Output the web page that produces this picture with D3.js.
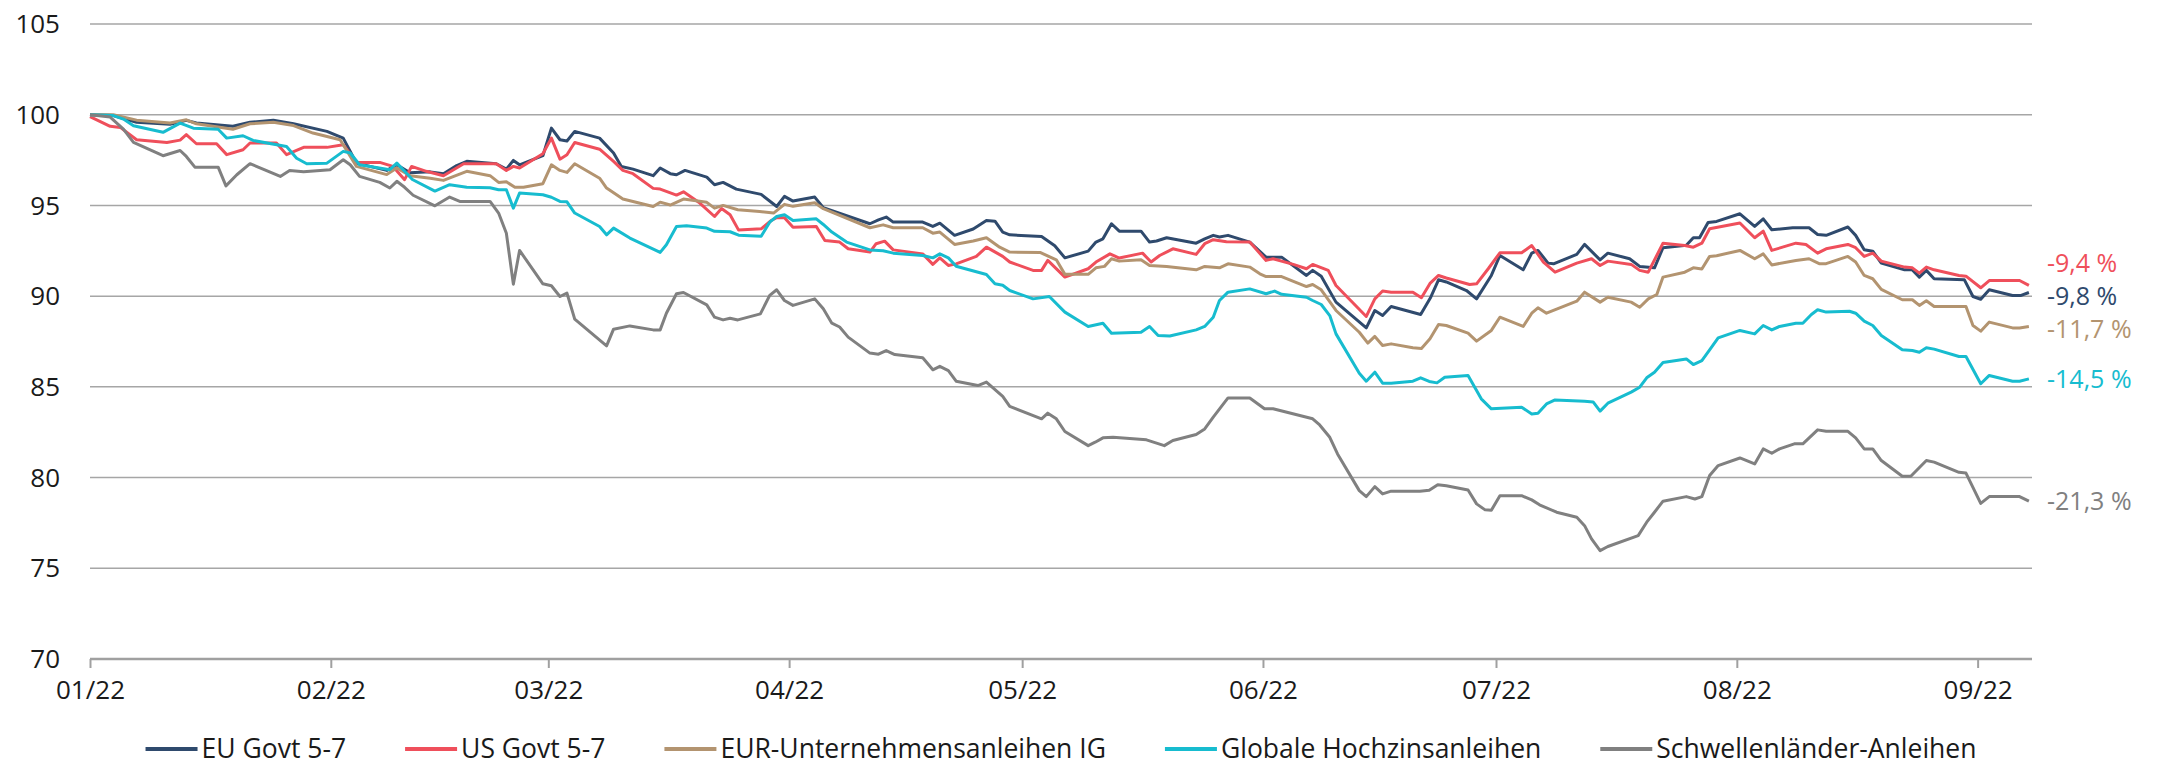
<!DOCTYPE html>
<html>
<head>
<meta charset="utf-8">
<script src="https://cdn.jsdelivr.net/npm/d3@7"></script>
<style>
  body { margin: 0; background: #fff; }
  svg { font-family: "Open Sans", sans-serif; }
</style>
</head>
<body>
<svg id="chart" width="2167" height="768"></svg>
<script>
// index level (start = 100), points are [days since 1 Jan 2022, value]
const euGovt = [[0,100],[3,99.95],[6,99.58],[10.3,99.47],[12.4,99.69],[13.7,99.54],[18.4,99.36],[20.6,99.58],[23.6,99.69],[26.2,99.5],[30.5,99.08],[32.6,98.71],[34.3,97.33],[38.2,96.93],[39.5,97.24],[41.2,96.8],[43.8,96.85],[45.5,96.75],[47.2,97.2],[48.5,97.43],[52.3,97.3],[53.6,97.0],[54.5,97.48],[55.3,97.24],[58.3,97.74],[59.4,99.26],[60.5,98.62],[61.4,98.55],[62.4,99.08],[65.6,98.71],[67.4,97.89],[68.4,97.15],[69.9,97.0],[72.5,96.64],[73.4,97.06],[74.7,96.75],[75.5,96.69],[76.6,96.93],[79.4,96.56],[80.4,96.14],[81.5,96.27],[83.2,95.9],[86.4,95.61],[88.4,94.94],[89.4,95.5],[90.5,95.24],[93.3,95.46],[94.4,94.87],[100.4,93.99],[101.5,94.2],[102.5,94.36],[103.4,94.08],[107.2,94.08],[108.5,93.84],[109.4,94.02],[111.3,93.35],[113.7,93.7],[115.4,94.17],[116.5,94.13],[117.5,93.53],[118.4,93.38],[122.5,93.29],[124.2,92.78],[125.5,92.11],[128.5,92.48],[129.5,92.98],[130.4,93.16],[131.5,93.99],[132.5,93.58],[135.3,93.58],[136.4,92.98],[137.3,93.04],[138.6,93.22],[142.4,92.92],[143.5,93.16],[144.6,93.35],[145.4,93.26],[146.5,93.35],[149.3,92.98],[151.4,92.15],[153.4,92.15],[156.6,91.14],[157.4,91.42],[158.5,91.1],[160.4,89.67],[164.3,88.25],[165.4,89.21],[166.4,88.93],[167.5,89.43],[171.3,88.99],[172.6,89.94],[173.6,90.9],[174.6,90.78],[177.2,90.31],[178.5,89.85],[180.4,91.14],[181.5,92.24],[184.5,91.45],[185.6,92.37],[186.4,92.52],[187.7,91.82],[188.4,91.78],[191.4,92.3],[192.4,92.85],[194.4,92.0],[195.4,92.37],[198.2,92.06],[199.5,91.64],[201.4,91.56],[202.5,92.67],[205.5,92.8],[206.4,93.22],[207.2,93.22],[208.3,94.06],[209.4,94.12],[212.4,94.54],[214.3,93.84],[215.4,94.26],[216.5,93.66],[219.2,93.77],[221.3,93.77],[222.4,93.4],[223.5,93.35],[226.3,93.81],[227.3,93.35],[228.4,92.56],[229.5,92.48],[230.6,91.82],[233.6,91.45],[234.6,91.45],[235.5,91.05],[236.4,91.42],[237.4,90.96],[241.3,90.9],[242.4,89.98],[243.4,89.83],[244.5,90.35],[247.5,90.04],[248.6,90.04],[249.6,90.2]];

const usGovt = [[0,99.9],[2.6,99.36],[3.9,99.3],[6,98.62],[9.9,98.47],[11.6,98.6],[12.4,98.9],[13.7,98.4],[16.3,98.4],[17.6,97.8],[19.7,98.07],[20.6,98.44],[24,98.44],[25.3,97.8],[27.5,98.2],[30.5,98.2],[32.6,98.35],[34.3,97.37],[37.3,97.37],[39,97.15],[40.5,96.42],[41.4,97.15],[43.3,96.88],[45.5,96.64],[48.1,97.3],[52.3,97.3],[53.6,96.93],[54.5,97.15],[55.3,97.06],[58.3,97.85],[59.4,98.71],[60.5,97.55],[61.4,97.79],[62.4,98.47],[65.6,98.1],[67.4,97.43],[68.6,96.93],[69.9,96.75],[72.5,95.94],[73.4,95.9],[75.5,95.57],[76.4,95.75],[78.5,95.13],[80.4,94.39],[81.3,94.83],[82.4,94.49],[83.5,93.64],[86.4,93.71],[87.7,94.17],[88.4,94.32],[89.4,94.32],[90.5,93.8],[93.5,93.84],[94.6,93.07],[96.5,92.98],[97.6,92.61],[100.4,92.43],[101.2,92.89],[102.3,93.03],[103.4,92.55],[107.2,92.33],[108.5,91.75],[109.4,92.11],[110.5,91.69],[111.5,91.78],[114.1,92.19],[115.4,92.7],[117.5,92.19],[118.4,91.88],[121.4,91.42],[122.5,91.42],[123.3,91.97],[125.5,91.05],[128.5,91.51],[129.5,91.88],[131.3,92.33],[132.5,92.1],[135.5,92.37],[136.6,91.88],[137.7,92.24],[139.4,92.61],[142.4,92.3],[143.5,92.89],[144.6,93.11],[146.3,93.0],[149.3,92.98],[151.4,91.97],[152.3,92.06],[154.9,91.75],[156.6,91.51],[157.4,91.75],[159.4,91.42],[160.4,90.59],[164.3,88.88],[165.4,89.85],[166.4,90.28],[167.5,90.22],[170.3,90.22],[171.4,89.91],[172.5,90.7],[173.6,91.14],[174.6,91.0],[177.6,90.64],[178.5,90.68],[180,91.51],[181.5,92.39],[184.3,92.39],[185.6,92.79],[187.1,91.88],[188.6,91.32],[191.4,91.82],[193.3,92.06],[194.4,91.69],[195.4,91.93],[198.4,91.75],[199.5,91.42],[200.6,91.32],[202.5,92.92],[205.3,92.79],[206.4,92.7],[207.5,92.92],[208.5,93.71],[212.4,94.03],[214.3,93.22],[215.4,93.58],[216.5,92.52],[219.6,92.92],[220.9,92.85],[222.4,92.37],[223.5,92.61],[226.3,92.85],[227.3,92.67],[228.4,92.19],[229.5,92.37],[230.6,91.93],[233.6,91.6],[234.6,91.56],[235.5,91.27],[236.4,91.6],[237.4,91.45],[240.6,91.14],[241.5,91.1],[243.4,90.46],[244.5,90.86],[248.4,90.86],[249.6,90.59]];

const eurCorpIG = [[0,100],[3,100],[6,99.7],[10.3,99.54],[12.4,99.72],[13.7,99.5],[18.4,99.2],[20.6,99.5],[23.6,99.58],[26.2,99.4],[28.7,98.99],[32.2,98.62],[34.3,97.15],[38.2,96.7],[39.5,97.06],[41.2,96.64],[43.8,96.5],[45.5,96.38],[48.5,96.88],[51.5,96.64],[52.6,96.27],[53.6,96.3],[54.7,96.0],[55.8,96.0],[58.3,96.2],[59.4,97.24],[60.5,96.93],[61.4,96.82],[62.4,97.3],[65.6,96.5],[66.5,95.96],[68.6,95.35],[72.5,94.94],[73.4,95.18],[74.7,95.02],[76.4,95.35],[79.4,95.17],[80.4,94.85],[81.5,95.0],[83.4,94.76],[86.2,94.67],[88,94.58],[89.4,95.06],[90.5,94.95],[93.3,95.15],[94.4,94.82],[100.4,93.77],[102.1,93.93],[103.4,93.77],[107.2,93.77],[108.5,93.47],[109.4,93.53],[111.3,92.85],[113.7,93.04],[115.4,93.22],[117.1,92.7],[118.4,92.43],[122.3,92.41],[124.4,92.0],[125.5,91.2],[128.5,91.2],[129.5,91.56],[130.6,91.64],[131.5,92.06],[132.5,91.93],[135.3,92.0],[136.4,91.69],[138.6,91.64],[142.4,91.45],[143.5,91.64],[145.4,91.56],[146.5,91.78],[149.3,91.6],[150.6,91.23],[151.4,91.08],[153.4,91.08],[156.6,90.53],[157.4,90.64],[158.5,90.35],[160.4,89.21],[163.4,88.01],[164.5,87.41],[165.4,87.78],[166.4,87.28],[167.5,87.37],[170.3,87.15],[171.4,87.12],[172.5,87.65],[173.6,88.44],[174.6,88.38],[177.4,87.96],[178.5,87.52],[180.4,88.11],[181.5,88.84],[184.5,88.33],[185.6,89.06],[186.4,89.36],[187.5,89.06],[191.4,89.72],[192.4,90.22],[194.4,89.67],[195.4,89.94],[198.4,89.67],[199.5,89.39],[200.6,89.85],[201.7,90.09],[202.5,91.05],[205.3,91.32],[206.4,91.56],[207.5,91.5],[208.5,92.19],[209.4,92.23],[212.4,92.52],[214.3,92.06],[215.4,92.33],[216.5,91.72],[219.6,91.97],[221.3,92.06],[222.6,91.79],[223.5,91.79],[226.3,92.19],[227.3,91.88],[228.4,91.14],[229.5,90.96],[230.6,90.37],[233.3,89.8],[234.6,89.8],[235.5,89.49],[236.4,89.75],[237.4,89.43],[241.5,89.43],[242.4,88.38],[243.4,88.07],[244.5,88.57],[247.5,88.25],[248.4,88.25],[249.6,88.33]];

const globalHY = [[0,100],[3,99.95],[4.3,99.76],[5.6,99.39],[9.4,99.03],[11.6,99.54],[13.3,99.26],[16.5,99.2],[17.6,98.71],[19.7,98.84],[21,98.58],[25.3,98.25],[26.6,97.6],[27.9,97.3],[30.5,97.33],[32.6,97.98],[33.5,97.89],[34.7,97.24],[38.6,96.97],[39.5,97.33],[40.5,96.88],[41.5,96.43],[44.4,95.79],[46.3,96.14],[48.5,96.0],[51.5,95.97],[52.6,95.86],[53.6,95.86],[54.5,94.85],[55.3,95.68],[58.3,95.59],[59.4,95.45],[60.5,95.22],[61.4,95.2],[62.4,94.58],[65.6,93.84],[66.5,93.38],[67.4,93.75],[69.5,93.2],[73.4,92.41],[74.2,92.83],[75.5,93.84],[76.8,93.88],[79.4,93.75],[80.4,93.57],[82.4,93.55],[83.5,93.36],[86.4,93.3],[87.5,94.08],[88.4,94.39],[89.4,94.49],[90.5,94.17],[93.5,94.26],[94.4,93.95],[95.5,93.53],[97.4,92.98],[100.4,92.55],[102.1,92.5],[103.4,92.37],[107.2,92.24],[108.5,92.11],[109.4,92.33],[110.5,92.11],[111.5,91.65],[115.4,91.19],[116.5,90.68],[117.5,90.6],[118.4,90.31],[121.4,89.85],[123.5,89.98],[125.5,89.12],[128.5,88.33],[130.4,88.51],[131.5,87.96],[135.3,88.01],[136.4,88.33],[137.5,87.83],[139,87.8],[142.4,88.14],[143.5,88.33],[144.6,88.84],[145.4,89.76],[146.5,90.22],[149.3,90.4],[151.4,90.13],[152.5,90.28],[153.4,90.1],[156.6,89.94],[157.4,89.76],[158.5,89.54],[159.6,88.93],[160.4,87.92],[163.4,85.75],[164.3,85.31],[165.4,85.81],[166.4,85.2],[167.5,85.2],[170.3,85.31],[171.3,85.5],[172.4,85.3],[173.4,85.22],[174.4,85.53],[177.4,85.63],[179.1,84.34],[180.4,83.79],[184.3,83.88],[185.6,83.51],[186.4,83.55],[187.5,84.06],[188.6,84.28],[192.4,84.21],[193.5,84.17],[194.4,83.66],[195.4,84.1],[198.4,84.71],[199.5,84.98],[200.4,85.5],[201.4,85.81],[202.5,86.34],[205.5,86.54],[206.4,86.23],[207.5,86.45],[208.5,87.04],[209.6,87.7],[212.4,88.11],[214.3,87.92],[215.4,88.38],[216.5,88.14],[217.5,88.33],[219.6,88.51],[220.5,88.51],[221.6,88.99],[222.4,89.25],[223.5,89.12],[226.5,89.17],[227.3,89.06],[228.4,88.62],[229.5,88.38],[230.6,87.83],[233.3,87.04],[234.6,87.0],[235.5,86.91],[236.4,87.15],[237.4,87.08],[240.6,86.67],[241.5,86.67],[243.4,85.17],[244.5,85.63],[247.5,85.31],[248.4,85.31],[249.6,85.44]];

const emBonds = [[0,100],[2.6,99.87],[4.3,99.21],[5.6,98.47],[9.4,97.74],[11.6,98.03],[12.4,97.7],[13.5,97.11],[16.5,97.11],[17.5,96.08],[18.9,96.69],[20.6,97.3],[24.5,96.6],[25.7,96.93],[27.5,96.86],[30.9,96.97],[32.6,97.52],[33.5,97.24],[34.7,96.6],[37.3,96.27],[38.6,95.96],[39.5,96.33],[40.5,96.0],[41.6,95.56],[44.4,94.98],[46.3,95.46],[47.6,95.22],[51.5,95.22],[52.6,94.58],[53.6,93.47],[54.5,90.66],[55.3,92.52],[58.3,90.68],[59.4,90.57],[60.5,89.98],[61.4,90.17],[62.4,88.73],[66.5,87.26],[67.4,88.18],[69.5,88.36],[72.5,88.14],[73.4,88.14],[74.2,89.06],[75.5,90.13],[76.4,90.2],[79.4,89.52],[80.4,88.84],[81.5,88.69],[82.4,88.78],[83.4,88.69],[86.3,89.02],[87.5,90.04],[88.4,90.35],[89.4,89.76],[90.5,89.49],[93.3,89.85],[94.4,89.3],[95.5,88.51],[96.5,88.3],[97.6,87.74],[100.4,86.86],[101.5,86.8],[102.5,87.0],[103.6,86.78],[107.2,86.6],[108.5,85.94],[109.4,86.13],[110.5,85.9],[111.5,85.31],[114.3,85.07],[115.4,85.26],[117.5,84.47],[118.4,83.92],[122.5,83.24],[123.3,83.55],[124.4,83.24],[125.5,82.54],[128.5,81.76],[129.4,81.95],[130.4,82.19],[131.7,82.22],[136,82.08],[138.3,81.76],[139.4,82.04],[142.4,82.37],[143.5,82.68],[144.6,83.33],[146.5,84.39],[149.3,84.39],[151.2,83.79],[152.3,83.79],[157.4,83.24],[158.3,82.9],[159.6,82.22],[160.6,81.3],[163.4,79.28],[164.3,78.95],[165.4,79.5],[166.4,79.1],[167.5,79.25],[171.2,79.25],[172.4,79.3],[173.5,79.61],[174.6,79.55],[177.4,79.32],[178.5,78.55],[179.6,78.22],[180.4,78.2],[181.5,79.0],[184.3,79.0],[185.6,78.77],[186.6,78.5],[188.8,78.09],[191.4,77.81],[192.4,77.35],[193.3,76.62],[194.4,75.97],[195.4,76.2],[199.3,76.8],[200.4,77.54],[201.4,78.09],[202.5,78.7],[205.5,78.95],[206.6,78.82],[207.5,78.95],[208.5,80.11],[209.6,80.66],[212.4,81.08],[214.3,80.75],[215.4,81.58],[216.5,81.34],[217.5,81.58],[219.4,81.86],[220.5,81.86],[222.4,82.63],[223.5,82.55],[226.3,82.55],[227.3,82.19],[228.4,81.58],[229.5,81.58],[230.6,80.94],[233.3,80.07],[234.4,80.07],[236.4,80.94],[237.4,80.85],[240.6,80.29],[241.5,80.25],[243.4,78.58],[244.5,78.95],[248.4,78.95],[249.6,78.7]];

const seriesNames = ["EU Govt 5-7", "US Govt 5-7", "EUR-Unternehmensanleihen IG", "Globale Hochzinsanleihen", "Schwellenländer-Anleihen"];
const seriesData = [euGovt, usGovt, eurCorpIG, globalHY, emBonds];
const seriesColors = ["#2f4a6d", "#ef4f5b", "#b39470", "#17bccf", "#808080"];
const endLabels = ["-9,8 %", "-9,4 %", "-11,7 %", "-14,5 %", "-21,3 %"];
const yTicks = [70, 75, 80, 85, 90, 95, 100, 105];
const startDate = new Date(2022, 0, 1);
const endDate = new Date(2022, 8, 8);

const toDate = d => new Date(startDate.getTime() + d * 864e5);

const svg = d3.select("#chart");
const plotLeft = 90, plotRight = 2032, plotTop = 24, plotBottom = 659;
const fontSize = 26;

const x = d3.scaleTime().domain([startDate, endDate]).range([plotLeft, plotRight]);
const y = d3.scaleLinear().domain([70, 105]).range([plotBottom, plotTop]);

// horizontal gridlines
svg.append("g")
  .selectAll("line")
  .data(yTicks.filter(t => t > 70))
  .join("line")
  .attr("x1", plotLeft).attr("x2", plotRight)
  .attr("y1", d => y(d)).attr("y2", d => y(d))
  .attr("stroke", "#a6a6a6")
  .attr("stroke-width", 1.5);

// y labels
svg.append("g")
  .selectAll("text")
  .data(yTicks)
  .join("text")
  .attr("x", 60)
  .attr("y", d => y(d))
  .attr("dy", "0.35em")
  .attr("text-anchor", "end")
  .attr("font-size", fontSize)
  .attr("fill", "#1a1a1a")
  .text(d => d);

// x axis
const xAxis = d3.axisBottom(x)
  .ticks(d3.timeMonth.every(1))
  .tickFormat(d3.timeFormat("%m/%y"))
  .tickSize(9)
  .tickPadding(13);

const xG = svg.append("g")
  .attr("transform", "translate(0," + plotBottom + ")")
  .call(xAxis);
xG.select(".domain").attr("stroke", "#a0a0a0").attr("stroke-width", 2.5)
  .attr("d", "M" + plotLeft + ",0H" + plotRight);
xG.selectAll(".tick line").attr("stroke", "#a0a0a0").attr("stroke-width", 2);
xG.selectAll(".tick text")
  .attr("font-size", fontSize)
  .attr("font-family", "Open Sans, sans-serif")
  .attr("fill", "#1a1a1a");

// lines
const line = d3.line()
  .x(d => x(toDate(d[0])))
  .y(d => y(d[1]));

svg.append("g")
  .selectAll("path")
  .data(seriesData)
  .join("path")
  .attr("d", line)
  .attr("fill", "none")
  .attr("stroke", (d, i) => seriesColors[i])
  .attr("stroke-width", 3)
  .attr("stroke-linejoin", "round");

// end labels, spread apart where they would collide
var labels = seriesData.map((s, i) => ({ i: i, y: y(s[s.length - 1][1]) }));
labels.sort((a, b) => a.y - b.y);
const minGap = 33;
for (let pass = 0; pass < 20; pass++) {
  for (let k = labels.length - 2; k >= 0; k--) {
    const gap = labels[k + 1].y - labels[k].y;
    if (gap < minGap) {
      labels[k].y -= (minGap - gap) * 0.7;
      labels[k + 1].y += (minGap - gap) * 0.3;
    }
  }
}
svg.append("g")
  .selectAll("text")
  .data(labels)
  .join("text")
  .attr("x", 2047)
  .attr("y", d => d.y)
  .attr("dy", "0.35em")
  .attr("font-size", 25)
  .attr("fill", d => seriesColors[d.i])
  .text(d => endLabels[d.i]);

// legend
const legend = svg.append("g");
var lx = 0;
seriesNames.forEach(function(name, i) {
  const g = legend.append("g").attr("transform", "translate(" + lx + ",0)");
  g.append("line")
    .attr("x1", 0).attr("x2", 52)
    .attr("y1", 0).attr("y2", 0)
    .attr("stroke", seriesColors[i])
    .attr("stroke-width", 4);
  const t = g.append("text")
    .attr("x", 56)
    .attr("dy", "0.35em")
    .attr("font-size", 26.5)
    .attr("fill", "#1a1a1a")
    .text(name);
  lx += 56 + t.node().getComputedTextLength() + 59;
});
lx -= 59;
legend.attr("transform", "translate(" + ((plotLeft + plotRight) / 2 - lx / 2) + ",749)");
</script>
</body>
</html>
